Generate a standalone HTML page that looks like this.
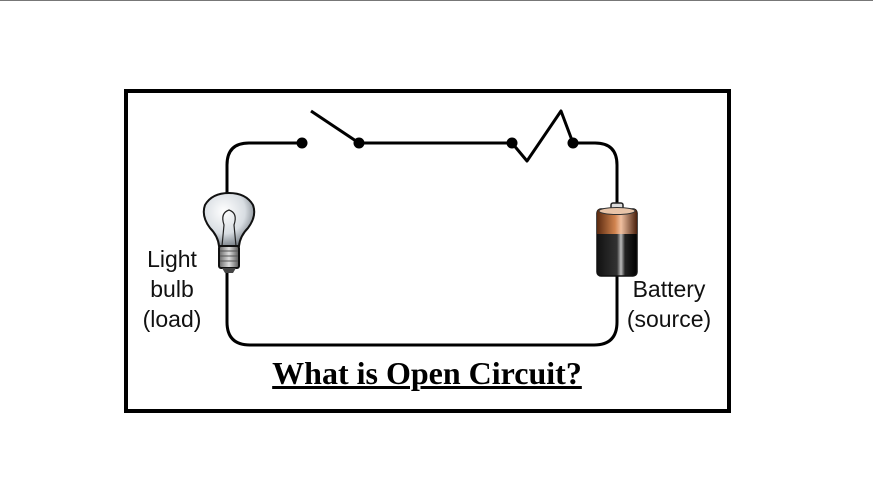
<!DOCTYPE html>
<html><head><style>
html,body{margin:0;padding:0;background:#fff;}
body{width:873px;height:497px;position:relative;overflow:hidden;}
.lbl{position:absolute;font-family:"Liberation Sans",sans-serif;font-size:23px;color:#111;text-align:center;line-height:30px;}
</style></head><body>
<div style="position:absolute;left:0;top:0;width:873px;height:1px;background:#777"></div>
<svg width="873" height="497" style="position:absolute;left:0;top:0">
<defs>
<radialGradient id="glass" cx="40%" cy="35%" r="70%">
<stop offset="0" stop-color="#fff"/><stop offset="0.6" stop-color="#d8dde2"/><stop offset="1" stop-color="#6e767e"/>
</radialGradient>
<linearGradient id="cop" x1="0" x2="1"><stop offset="0" stop-color="#5a2a10"/><stop offset="0.45" stop-color="#d0834e"/><stop offset="0.6" stop-color="#f0c0a0"/><stop offset="1" stop-color="#4a200c"/></linearGradient>
<linearGradient id="blk" x1="0" x2="1"><stop offset="0" stop-color="#111"/><stop offset="0.5" stop-color="#333"/><stop offset="0.6" stop-color="#bbb"/><stop offset="0.7" stop-color="#222"/><stop offset="1" stop-color="#000"/></linearGradient>
<linearGradient id="base" x1="0" x2="1"><stop offset="0" stop-color="#666"/><stop offset="0.5" stop-color="#ddd"/><stop offset="1" stop-color="#555"/></linearGradient>
</defs>
<rect x="126" y="91" width="603" height="320" fill="none" stroke="#000" stroke-width="4"/>
<g fill="none" stroke="#000" stroke-width="3" stroke-linejoin="round">
<path d="M227 195 V165 Q227 143 249 143 H302"/>
<path d="M359 143 H512 L527 161 L561 111 L573 143 H595 Q617 143 617 165 V206"/>
<path d="M311 111 L359 143"/>
<path d="M227 272 V322 Q227 345 250 345 H594 Q617 345 617 322 V276"/>
</g>
<g fill="#000"><circle cx="302" cy="143" r="5.5"/><circle cx="359" cy="143" r="5.5"/><circle cx="512" cy="143" r="5.5"/><circle cx="573" cy="143" r="5.5"/></g>
<path d="M219 246 Q218 236 210 228 Q201 216 205 205 Q212 193 229 193 Q246 193 253 205 Q257 216 248 228 Q240 236 239 246 Z" fill="url(#glass)" stroke="#111" stroke-width="2"/>
<path d="M222 246 L224 225 Q220 213 229 210 Q238 213 234 225 L236 246" fill="none" stroke="#222" stroke-width="1.2"/>
<rect x="219" y="246" width="20" height="22" rx="2" fill="url(#base)" stroke="#111" stroke-width="2"/>
<g stroke="#555" stroke-width="1"><line x1="220" y1="251" x2="238" y2="251"/><line x1="220" y1="256" x2="238" y2="256"/><line x1="220" y1="261" x2="238" y2="261"/></g>
<path d="M222 268 h14 l-3 5 h-8 z" fill="#444"/>
<rect x="611" y="203" width="12" height="8" rx="2" fill="#ddd" stroke="#222" stroke-width="1.5"/>
<rect x="597" y="209" width="40" height="67" rx="4" fill="url(#blk)" stroke="#111" stroke-width="1.5"/>
<path d="M597 213 Q597 209 601 209 H633 Q637 209 637 213 V234 H597 Z" fill="url(#cop)"/>
<ellipse cx="617" cy="211" rx="18" ry="3.5" fill="#e8c4a8" stroke="#333" stroke-width="1"/>
</svg>
<div class="lbl" style="left:131px;top:244px;width:82px">Light<br>bulb<br>(load)</div>
<div class="lbl" style="left:614px;top:274px;width:110px">Battery<br>(source)</div>
<div style="position:absolute;left:180px;top:354px;width:494px;text-align:center;font-family:'Liberation Serif',serif;font-weight:bold;font-size:32px;line-height:38px;text-decoration:underline;text-decoration-thickness:3px;color:#000">What is Open Circuit?</div>
</body></html>
